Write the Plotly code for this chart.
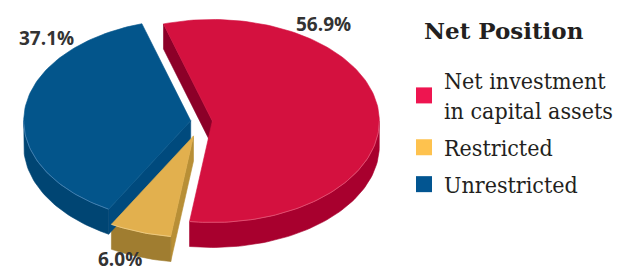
import math
import plotly.graph_objects as go

# ---- data ----
categories = ["Net investment<br>in capital assets", "Restricted", "Unrestricted"]
values = [56.9, 6.0, 37.1]
pct_labels = ["56.9%", "6.0%", "37.1%"]
legend_title = "Net Position"

# ---- style ----
top_colors = ["#d4113f", "#e2b04e", "#03558b"]
wall_colors = ["#a8002e", "#a07d30", "#004573"]
cut_colors = ["#8c0028", "#b88f36", "#004a7d"]
rim_colors = ["#e35a7a", "#f0cf8a", "#4f88b8"]
legend_colors = ["#ee1550", "#fec24e", "#025591"]
pulls = [0.065, 0.15, 0.065]

# geometry of the tilted pie (in plot units; axes map 1 unit = 1 px)
CX, CY = 193.5, 113.5     # centre of the un-exploded pie
A, B = 167.0, 101.5       # ellipse semi-axes of top face
DEPTH = 25.0
START = -17.0             # angle (deg, clockwise from 12 o'clock) of first slice


def pt(theta_deg, ox, oy, dz=0.0):
    t = math.radians(theta_deg)
    return ox + A * math.sin(t), oy - B * math.cos(t) + dz


def arc(t0, t1, ox, oy, dz=0.0):
    n = max(2, int(abs(t1 - t0) / 1.5) + 1)
    return [pt(t0 + (t1 - t0) * i / (n - 1), ox, oy, dz) for i in range(n)]


total = sum(values)
slices = []
acc = START
for v, p in zip(values, pulls):
    span = v / total * 360.0
    t0, t1 = acc, acc + span
    mid = math.radians((t0 + t1) / 2)
    ox = CX + p * A * math.sin(mid)
    oy = CY - p * B * math.cos(mid)
    slices.append((t0, t1, ox, oy))
    acc = t1

fig = go.Figure()


def poly(points, color, group, lw=0.6, lc=None):
    xs = [q[0] for q in points] + [points[0][0]]
    ys = [q[1] for q in points] + [points[0][1]]
    fig.add_trace(go.Scatter(x=xs, y=ys, mode="lines", fill="toself",
                             fillcolor=color, line=dict(width=lw, color=lc or color),
                             hoverinfo="skip", showlegend=False, legendgroup=group))


# side walls first
for i, (t0, t1, ox, oy) in enumerate(slices):
    g = categories[i]
    if math.sin(math.radians(t0)) < 0:
        r = pt(t0, ox, oy)
        poly([(ox, oy), r, (r[0], r[1] + DEPTH), (ox, oy + DEPTH)], cut_colors[i], g)
    if math.sin(math.radians(t1)) > 0:
        r = pt(t1, ox, oy)
        poly([(ox, oy), r, (r[0], r[1] + DEPTH), (ox, oy + DEPTH)], cut_colors[i], g)
    for k in (-360, 0, 360):
        lo, hi = max(t0, 90 + k), min(t1, 270 + k)
        if hi > lo:
            top = arc(lo, hi, ox, oy)
            bot = arc(hi, lo, ox, oy, DEPTH)
            poly(top + bot, wall_colors[i], g)

# top faces
for i, (t0, t1, ox, oy) in enumerate(slices):
    pts = [(ox, oy)] + arc(t0, t1, ox, oy)
    xs = [q[0] for q in pts] + [ox]
    ys = [q[1] for q in pts] + [oy]
    name = categories[i].replace("<br>", " ")
    fig.add_trace(go.Scatter(x=xs, y=ys, mode="lines", fill="toself",
                             fillcolor=top_colors[i], line=dict(width=0.6, color=top_colors[i]),
                             name=name, hoveron="fills", hoverinfo="text",
                             text="%s: %.1f%%" % (name, values[i]),
                             showlegend=False, legendgroup=categories[i]))
    # light rim highlight on the front edge
    for k in (-360, 0, 360):
        lo, hi = max(t0, 90 + k), min(t1, 270 + k)
        if hi > lo:
            rim = arc(lo, hi, ox, oy)
            fig.add_trace(go.Scatter(x=[q[0] for q in rim], y=[q[1] for q in rim],
                                     mode="lines", line=dict(width=0.8, color=rim_colors[i]),
                                     hoverinfo="skip", showlegend=False,
                                     legendgroup=categories[i]))

# legend entries
for i, c in enumerate(categories):
    fig.add_trace(go.Scatter(x=[None], y=[None], mode="markers", name=c,
                             marker=dict(symbol="square", size=18, color=legend_colors[i]),
                             legendgroup=c, showlegend=True))

label_pos = [(315, 16, "middle"), (112, 265, "bottom"), (38, 30, "middle")]
for txt, (px, py, ya) in zip(pct_labels, label_pos):
    fig.add_annotation(x=px / 631, y=1 - py / 269, xref="paper", yref="paper",
                       text="<b>%s</b>" % txt, borderpad=0,
                       showarrow=False, xanchor="center", yanchor=ya,
                       font=dict(family="Open Sans", size=19, color="#333333"))

fig.add_annotation(x=414 / 631, y=1 - 23 / 269, xref="paper", yref="paper",
                   text="<b>%s</b>" % legend_title, showarrow=False,
                   xanchor="left", yanchor="middle",
                   font=dict(family="DejaVu Serif", size=23, color="#231f20"))

fig.update_layout(
    width=631, height=269,
    margin=dict(l=0, r=0, t=0, b=0),
    paper_bgcolor="white", plot_bgcolor="white",
    xaxis=dict(range=[0, 631], visible=False, fixedrange=True),
    yaxis=dict(range=[269, 0], visible=False, fixedrange=True),
    legend=dict(
        x=396 / 631, y=1 - 51 / 269, xanchor="left", yanchor="top",
        bgcolor="rgba(0,0,0,0)", tracegroupgap=4,
        font=dict(family="DejaVu Serif Condensed, DejaVu Serif", size=23, color="#231f20"),
    ),
)

fig.write_html("out.html")
